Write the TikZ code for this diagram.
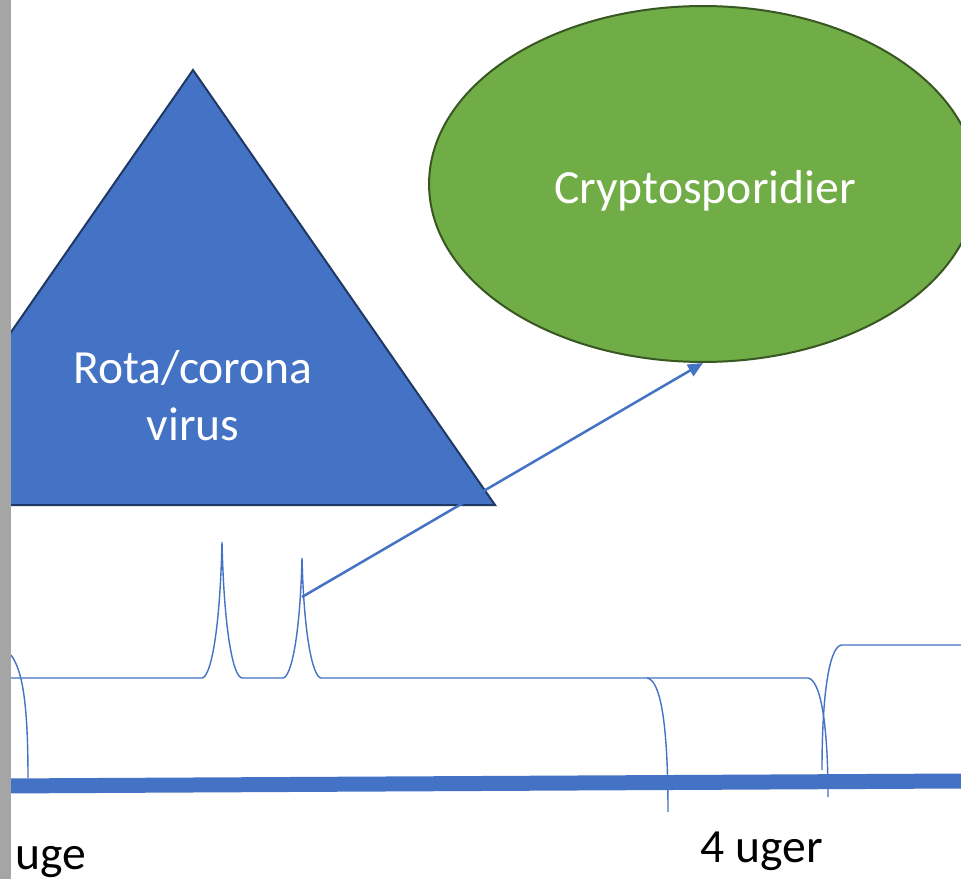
\documentclass[tikz,border=0pt]{standalone}
\usepackage{fontspec}
\setmainfont{Carlito}
\usepackage{tikz}
\usetikzlibrary{arrows.meta}
\usetikzlibrary{shapes.geometric}

\definecolor{offblue}{HTML}{4472C4}
\definecolor{offgreen}{HTML}{70AD47}
\definecolor{navyline}{HTML}{1F3864}
\definecolor{greenline}{HTML}{385723}
\definecolor{sidebar}{HTML}{A5A5A5}

\begin{document}
\begin{tikzpicture}[x=0.02cm, y=-0.02cm, >={Triangle[length=0.3cm, width=0.26cm]}]
			\tikzstyle{bigtext} = [font=\fontsize{27.1}{32.6}\selectfont, inner sep=0pt]
			\tikzstyle{thin} = [draw=offblue, line width=0.8pt]
			\clip (0,0) rectangle (961,879);
			\fill[white] (0,0) rectangle (961,879);

			% triangle and ellipse
			\filldraw[fill=offblue, draw=navyline, line width=0.04cm] (193,70) -- (495,505) -- (-109,505) -- cycle;
			\node[bigtext, text=white, align=center] (rota) at (193,396) {Rota/corona\\virus};
			\node[ellipse, fill=offgreen, draw=greenline, line width=0.04cm, minimum width=10.96cm, minimum height=7.12cm, inner sep=0pt] (crypto) at (703,184) {};
			\node[bigtext, text=white, anchor=base] (cryptotxt) at (705,203) {Cryptosporidier};

			% time axis
			\draw[offblue, line width=0.3cm] (0,786) -- (961,781);

			% curves
			\draw[thin] (11,655) .. controls (22,670) and (28,700) .. (28,778);
			\draw[thin] (11,678) -- (202,678)
				.. controls (211,677) and (220,630) .. (222,542)
				.. controls (224,630) and (233,677) .. (242,678) -- (283,678)
				.. controls (291,677) and (300,638) .. (302,558)
				.. controls (304,638) and (313,677) .. (321,678) -- (647,678)
				.. controls (660,680) and (668,720) .. (668,812);
			\draw[thin] (647,678) -- (808,678) .. controls (820,680) and (828,720) .. (828,797);
			\draw[thin] (822,770) .. controls (822,690) and (830,645) .. (842,645) -- (961,645);
			\coordinate (tap) at (302,597);

			\draw[->, offblue, line width=0.05cm] (tap) -- (crypto.south);

			\node[bigtext, anchor=base west] (week1) at (15,869) {uge};
			\node[bigtext, anchor=base] (week4) at (762,862) {4 uger};

			\fill[sidebar] (0,0) rectangle (11,879);
\end{tikzpicture}
\end{document}
